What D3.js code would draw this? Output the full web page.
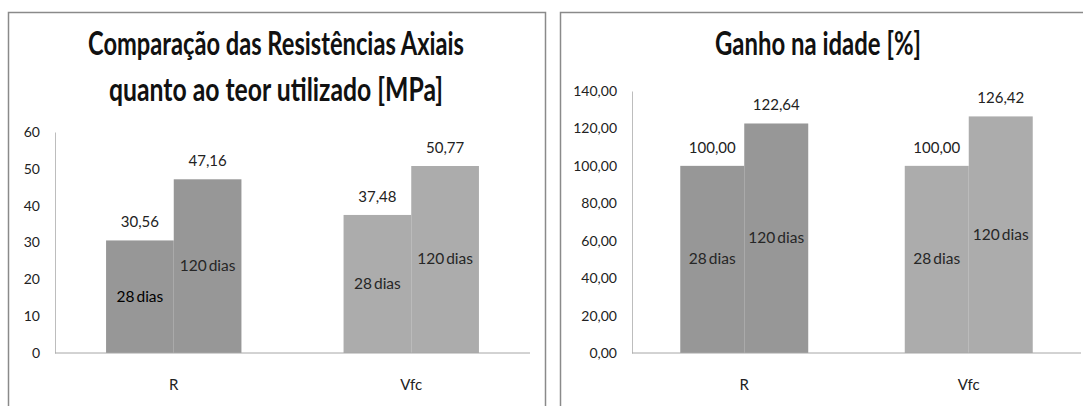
<!DOCTYPE html>
<html>
<head>
<meta charset="utf-8">
<script src="https://cdn.jsdelivr.net/npm/d3@7"></script>
<style>
    body { margin: 0; background: #fff; }
    svg { display: block; font-family: Lato, 'Open Sans', sans-serif; }
</style>
</head>
<body>
<svg id="chart" width="1083" height="406"></svg>
<script>
// *** data ***
const categories = ['R', 'Vfc'];
const series = ['28 dias', '120 dias'];
const resist28 = [30.56, 37.48];
const resist120 = [47.16, 50.77];
const ganho28 = [100.00, 100.00];
const ganho120 = [122.64, 126.42];
const catColors = ['#979797', '#acacac'];
const resistTicks = [0, 10, 20, 30, 40, 50, 60];
const ganhoTicks = [0, 20, 40, 60, 80, 100, 120, 140];

const svg = d3.select('#chart');
const fmt2 = v => d3.format('.2f')(v).replace('.', ',');

/**
 * desenha um painel de colunas agrupadas
 */
const drawPanel = (opt) => {
    const g = svg.append('g');
    // moldura
    g.append('rect')
        .attr('x', opt.box[0]).attr('y', opt.box[1])
        .attr('width', opt.box[2]).attr('height', opt.box[3])
        .attr('fill', '#fff')
        .attr('stroke', '#8a8a8a')
        .attr('stroke-width', 1.5);

    // titulo
    opt.title.forEach((line, i) => {
        g.append('text')
            .attr('x', opt.titleX)
            .attr('y', opt.titleY[i])
            .attr('text-anchor', 'middle')
            .attr('font-size', 33)
            .attr('font-weight', 'bold')
            .attr('fill', '#111')
            .attr('textLength', opt.titleW[i])
            .attr('lengthAdjust', 'spacingAndGlyphs')
            .text(line);
    });

    const x = d3.scaleBand()
        .domain(categories)
        .range(opt.xRange)
        .paddingInner(0.43)
        .paddingOuter(0.215);
    const xs = d3.scaleBand()
        .domain(series)
        .range([0, x.bandwidth()]);
    const y = d3.scaleLinear()
        .domain([0, d3.max(opt.ticks)])
        .range([353, opt.yTop]);

    // eixo y
    const yAxis = g.append('g')
        .attr('transform', `translate(${opt.xRange[0]},0)`)
        .call(d3.axisLeft(y).tickValues(opt.ticks).tickSize(0).tickPadding(15).tickFormat(opt.tickFmt));
    yAxis.select('.domain').attr('stroke', '#bdbdbd');
    yAxis.selectAll('text')
        .attr('font-size', 14)
        .attr('font-family', 'Lato')
        .attr('fill', '#222');

    const rows = categories.map((c, i) => ({
        cat: c,
        color: catColors[i],
        values: [opt.v28[i], opt.v120[i]],
    }));

    const groups = g.selectAll('.grp')
        .data(rows)
        .enter()
        .append('g')
        .attr('class', 'grp')
        .attr('transform', d => `translate(${x(d.cat)},0)`);

    const cells = groups.selectAll('.cell')
        .data(d => d.values.map((v, j) => ({ cat: d.cat, s: series[j], v: v, color: d.color })))
        .enter()
        .append('g')
        .attr('class', 'cell');

    cells.append('rect')
        .attr('x', d => xs(d.s))
        .attr('y', d => y(d.v))
        .attr('width', xs.bandwidth())
        .attr('height', d => y(0) - y(d.v))
        .attr('fill', d => d.color);

    // valores
    cells.append('text')
        .attr('x', d => xs(d.s) + xs.bandwidth() / 2)
        .attr('y', d => y(d.v) - 13)
        .attr('text-anchor', 'middle')
        .attr('font-size', 15)
        .attr('fill', '#222')
        .text(d => opt.valFmt(d.v));

    // nome da serie dentro da coluna
    cells.append('text')
        .attr('x', d => xs(d.s) + xs.bandwidth() / 2)
        .attr('y', d => (y(d.v) + y(0)) / 2 + 5)
        .attr('text-anchor', 'middle')
        .attr('font-size', 15.5)
        .attr('word-spacing', -2)
        .attr('fill', d => (opt.dark && d.cat === 'R' && d.s === '28 dias') ? '#000' : '#262626')
        .text(d => d.s);

    // eixo x
    g.append('line')
        .attr('x1', opt.xRange[0]).attr('x2', opt.xRange[1])
        .attr('y1', y(0)).attr('y2', y(0))
        .attr('stroke', '#a6a6a6');
    g.selectAll('.cat')
        .data(categories)
        .enter()
        .append('text')
        .attr('class', 'cat')
        .attr('x', d => x(d) + x.bandwidth() / 2)
        .attr('y', 390)
        .attr('text-anchor', 'middle')
        .attr('font-size', 15)
        .attr('fill', '#222')
        .text(d => d);
};

drawPanel({
    box: [8.5, 12.5, 537, 420],
    title: ['Comparação das Resistências Axiais', 'quanto ao teor utilizado [MPa]'],
    titleX: 276,
    titleY: [55, 101],
    titleW: [376, 334],
    xRange: [55, 530],
    yTop: 132,
    ticks: resistTicks,
    tickFmt: d3.format('d'),
    valFmt: fmt2,
    v28: resist28,
    v120: resist120,
    dark: true,
});

drawPanel({
    box: [560.5, 12.5, 560, 420],
    title: ['Ganho na idade [%]'],
    titleX: 818,
    titleY: [55],
    titleW: [206],
    xRange: [632, 1081],
    yTop: 91,
    ticks: ganhoTicks,
    tickFmt: fmt2,
    valFmt: fmt2,
    v28: ganho28,
    v120: ganho120,
    dark: false,
});
</script>
</body>
</html>
